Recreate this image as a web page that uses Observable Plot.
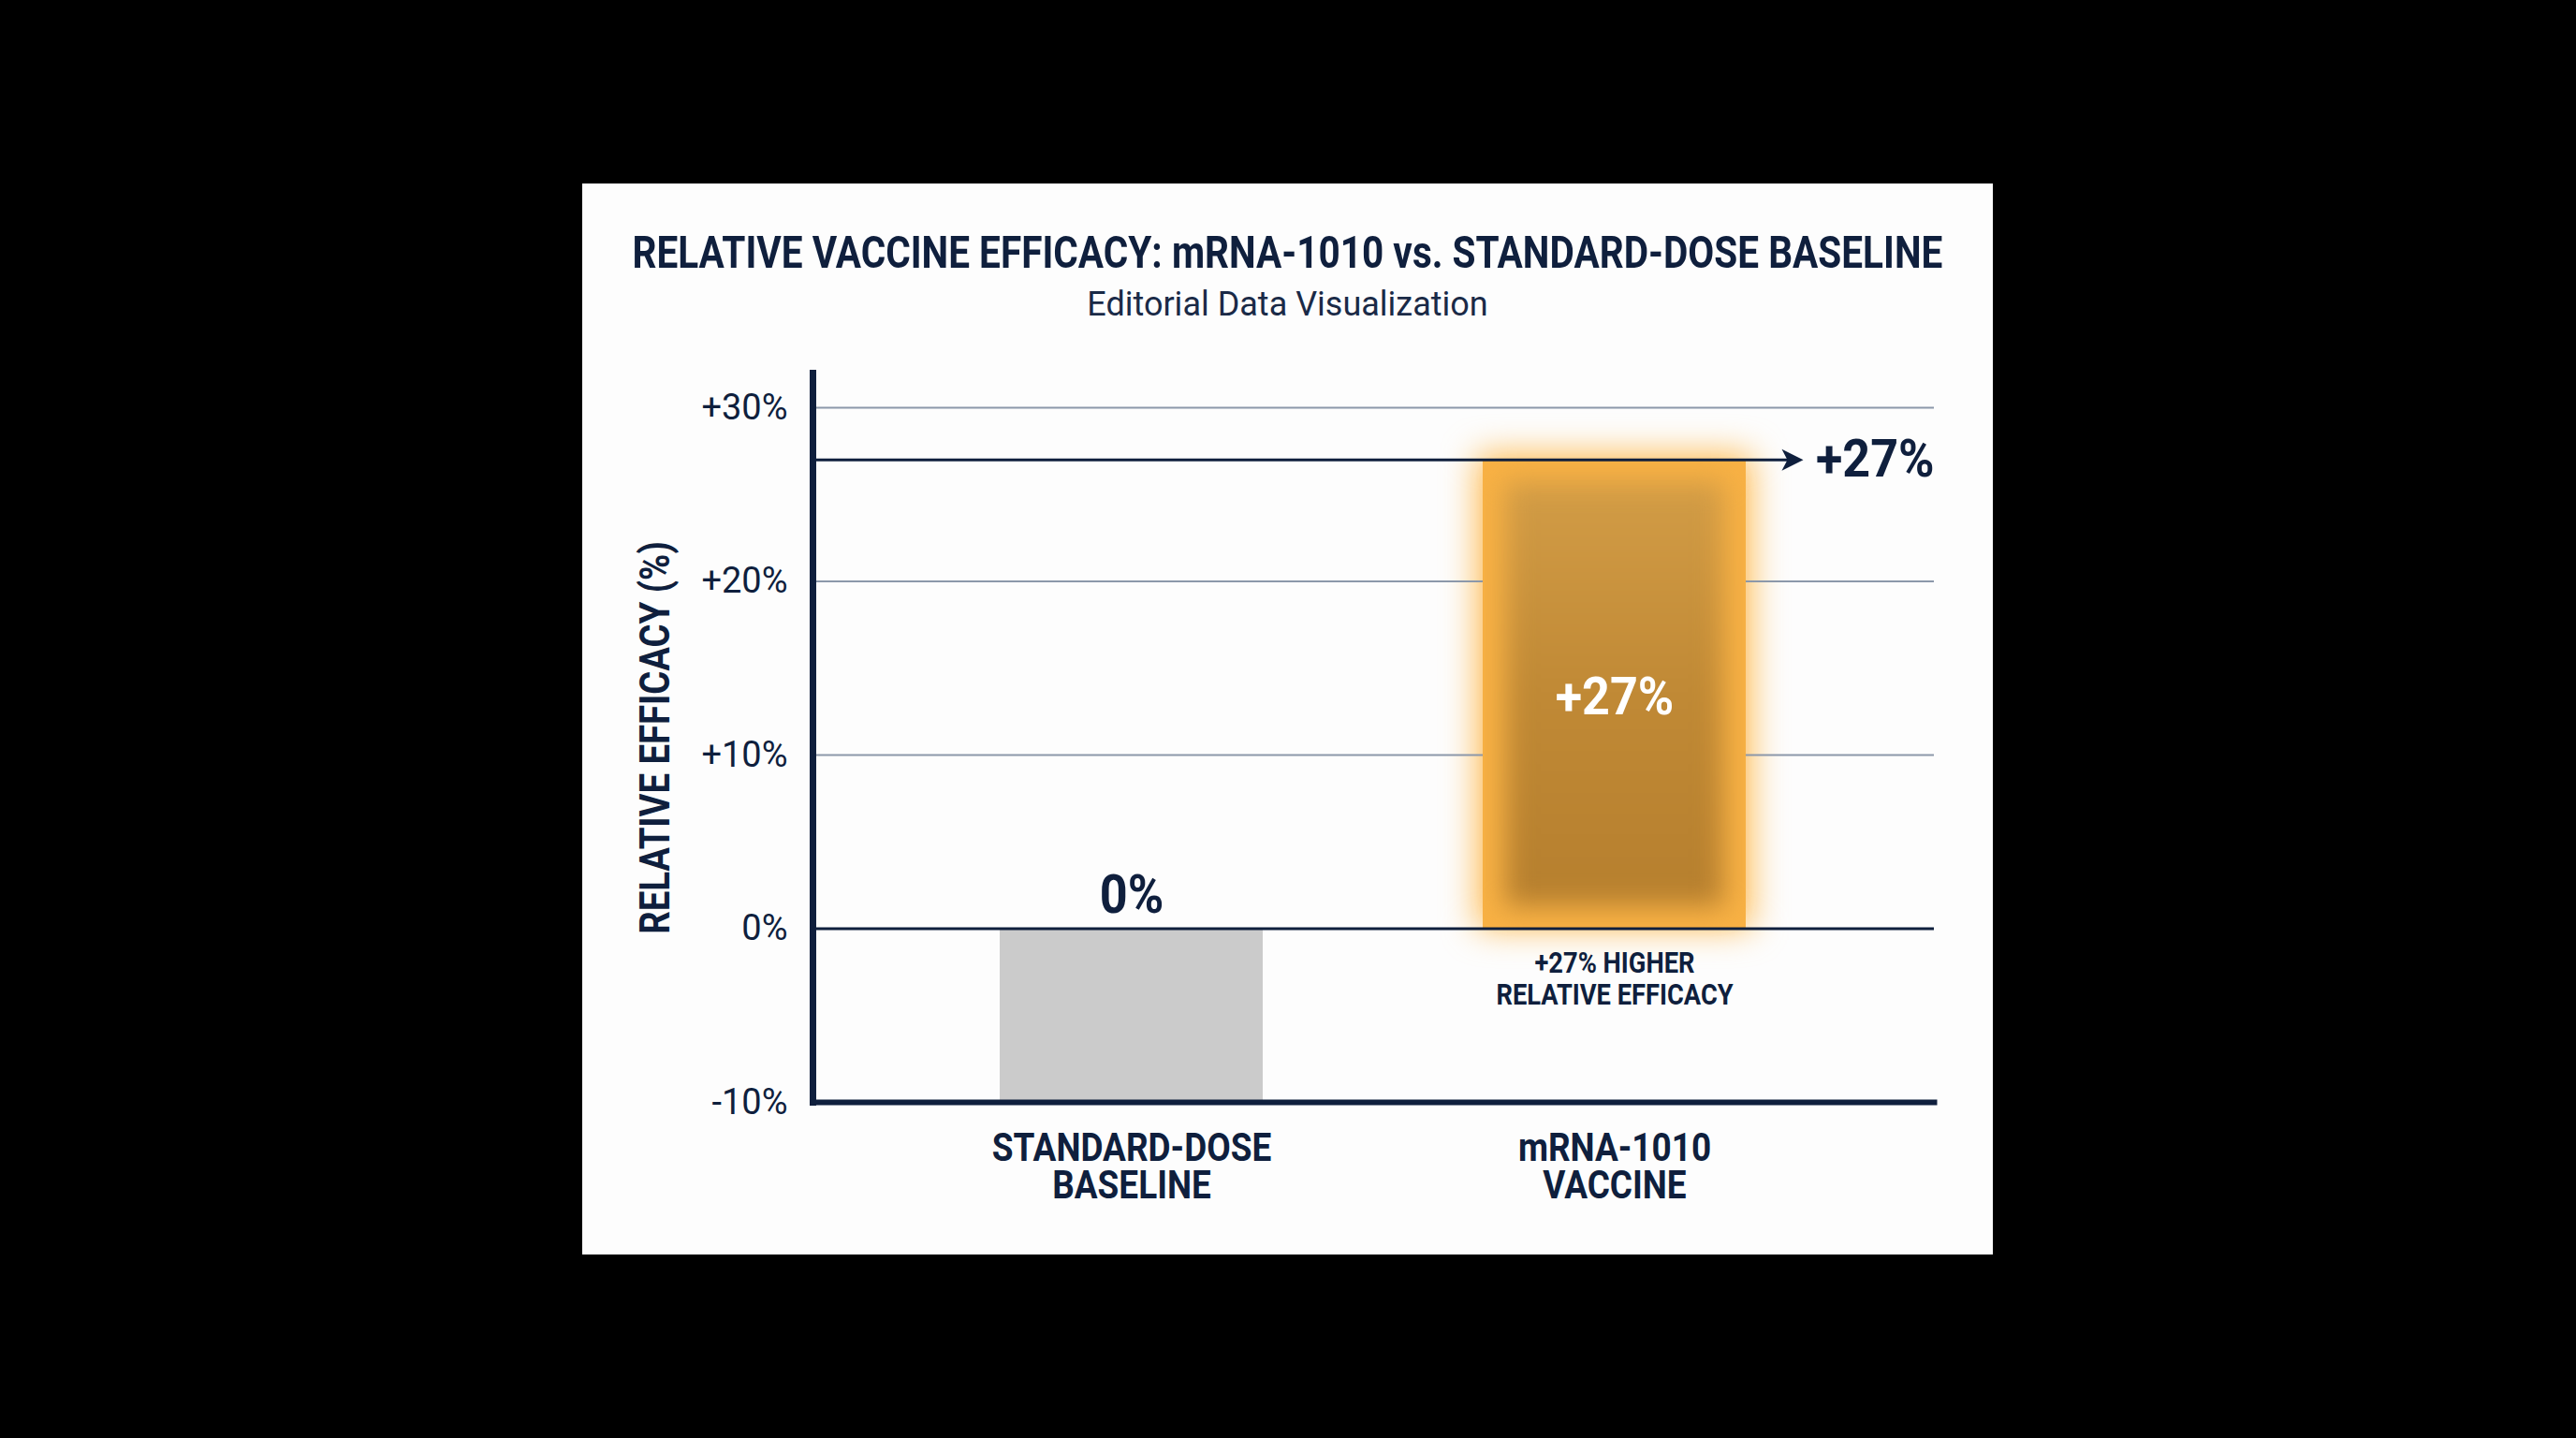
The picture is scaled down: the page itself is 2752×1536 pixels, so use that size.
<!DOCTYPE html>
<html><head><meta charset="utf-8">
<script src="https://cdn.jsdelivr.net/npm/d3@7"></script>
<script src="https://cdn.jsdelivr.net/npm/@observablehq/plot@0.6"></script>
<style>
html,body{margin:0;padding:0;background:#000;width:2752px;height:1536px;overflow:hidden;}
#panel{position:absolute;left:622px;top:196px;width:1507px;height:1144px;background:#fdfdfd;font-family:Roboto,sans-serif;color:#0f1f3d;}
.title{position:absolute;left:0;width:100%;display:flex;justify-content:center;white-space:nowrap;line-height:1;}
.title span{display:inline-block;flex:none;}
#t1{top:50px;font-size:48px;font-weight:700;}
#t1 span{transform:scaleX(0.845);}
#t2{top:111px;font-size:36px;font-weight:400;color:#1a2a47;}
#chart{position:absolute;left:0;top:170px;width:1507px;height:974px;}
</style></head><body>
<div id="panel">
  <div class="title" id="t1"><span>RELATIVE VACCINE EFFICACY: mRNA-1010 vs. STANDARD-DOSE BASELINE</span></div>
  <div class="title" id="t2"><span>Editorial Data Visualization</span></div>
  <div id="chart"></div>
</div>
<script>
// ---- data ----
const categories = ["STANDARD-DOSE\nBASELINE", "mRNA-1010\nVACCINE"];
const values = [0, 27];
const barLabels = ["0%", "+27%"];
const yTicks = [-10, 0, 10, 20, 30];
const gridValues = [10, 20, 30];
const yTop = 32;
const arrowValue = 27;
const arrowLabel = "+27%";
const noteText = "+27% HIGHER\nRELATIVE EFFICACY";
const yTitle = "RELATIVE EFFICACY (%)";

const NAVY = "#0f1f3d";
const rows = categories.map((c, i) => ({category: c, value: values[i], label: barLabels[i]}));
const yMin = yTicks[0];
const baseRows = rows.filter(d => d.value <= 0);
const upRows = rows.filter(d => d.value > 0);
const fmt = d => d > 0 ? `+${d}%` : `${d}%`;

const arrowHead = {
  draw(ctx) {
    ctx.moveTo(0, 0);
    ctx.lineTo(-23, -11.5);
    ctx.lineTo(-17, 0);
    ctx.lineTo(-23, 11.5);
    ctx.closePath();
  }
};

const defs = () => {
  const ns = "http://www.w3.org/2000/svg";
  const d = document.createElementNS(ns, "defs");
  d.innerHTML = `<linearGradient id="innerGrad" x1="0" y1="0" x2="0" y2="1">
      <stop offset="0" stop-color="#d29c46"/>
      <stop offset="0.5" stop-color="#c08935"/>
      <stop offset="1" stop-color="#b67f2e"/>
    </linearGradient>`;
  return d;
};

const chart = Plot.plot({
  width: 1507,
  height: 974,
  marginLeft: 246,
  marginRight: 63,
  marginTop: 32,
  marginBottom: 163,
  style: {background: "transparent", color: NAVY, fontFamily: "Roboto, sans-serif"},
  x: {domain: categories, paddingInner: 0.455, paddingOuter: 0.387, align: 0.5, axis: null},
  y: {domain: [yMin, yTop], axis: null},
  marks: [
    defs,
    // glow
    Plot.barY(upRows, {x: "category", y1: 0, y2: "value", fill: "#ffb540", insetLeft: -6, insetRight: -6, insetTop: -6, imageFilter: "blur(18px)", fillOpacity: 0.9}),
    Plot.ruleY(gridValues, {stroke: "#8c98aa", strokeWidth: 2}),
    Plot.barY(baseRows, {x: "category", y1: yMin, y2: "value", fill: "#cbcbcb"}),
    Plot.barY(upRows, {x: "category", y1: 0, y2: "value", fill: "#f8b144"}),
    Plot.barY(upRows, {x: "category", y1: 0, y2: "value", fill: "url(#innerGrad)", inset: 24, imageFilter: "blur(14px)"}),
    Plot.ruleY([0], {stroke: NAVY, strokeWidth: 3}),
    Plot.ruleY([arrowValue], {stroke: NAVY, strokeWidth: 3, insetRight: 150}),
    Plot.dot([arrowValue], {y: d => d, frameAnchor: "right", dx: -140, symbol: arrowHead, r: 12, fill: NAVY, stroke: "none"}),
    Plot.text([{value: arrowValue, label: arrowLabel}], {y: "value", text: "label", frameAnchor: "right", textAnchor: "end", fontSize: 56, fontWeight: 700, fill: NAVY, ariaDescription: "c93"}),
    Plot.text(baseRows, {x: "category", y: "value", text: "label", lineAnchor: "bottom", dy: -17, fontSize: 58, fontWeight: 700, fill: NAVY, ariaDescription: "c90"}),
    Plot.text(upRows, {x: "category", y: d => d.value / 2, text: "label", dy: 3, fill: "white", fontSize: 56, fontWeight: 700, ariaDescription: "c93"}),
    Plot.text(upRows, {x: "category", y: () => 0, text: () => noteText, lineAnchor: "top", dy: 23, fontSize: 31, fontWeight: 700, lineHeight: 1.1, fill: NAVY, ariaDescription: "c88"}),
    Plot.text([yTitle], {frameAnchor: "left", textAnchor: "middle", lineAnchor: "middle", dx: -168, rotate: -90, fontSize: 45, fontWeight: 700, fill: NAVY, ariaDescription: "c85"}),
    Plot.axisY({ticks: yTicks, tickFormat: fmt, tickSize: 0, tickPadding: 27, fontSize: 38, label: null}),
    Plot.axisX({tickSize: 0, tickPadding: 34, fontSize: 42, fontWeight: 700, lineHeight: 0.95, label: null}),
    Plot.frame({anchor: "left", stroke: NAVY, strokeWidth: 7, strokeLinecap: "square"}),
    Plot.frame({anchor: "bottom", stroke: NAVY, strokeWidth: 6, strokeLinecap: "square"})
  ]
});
document.getElementById("chart").appendChild(chart);

// condensed lettering
const condenseByLabel = {"x-axis tick label": 0.88};
chart.querySelectorAll("g").forEach(g => {
  let f = null;
  const desc = g.getAttribute("aria-description");
  if (desc && /^c\d+$/.test(desc)) f = +desc.slice(1) / 100;
  const lab = g.getAttribute("aria-label");
  if (lab && condenseByLabel[lab]) f = condenseByLabel[lab];
  if (f) g.querySelectorAll(":scope > text").forEach(t => {
    const tr = t.getAttribute("transform") || "";
    t.setAttribute("transform", tr + ` scale(${f},1)`);
  });
});
</script>
</body></html>
